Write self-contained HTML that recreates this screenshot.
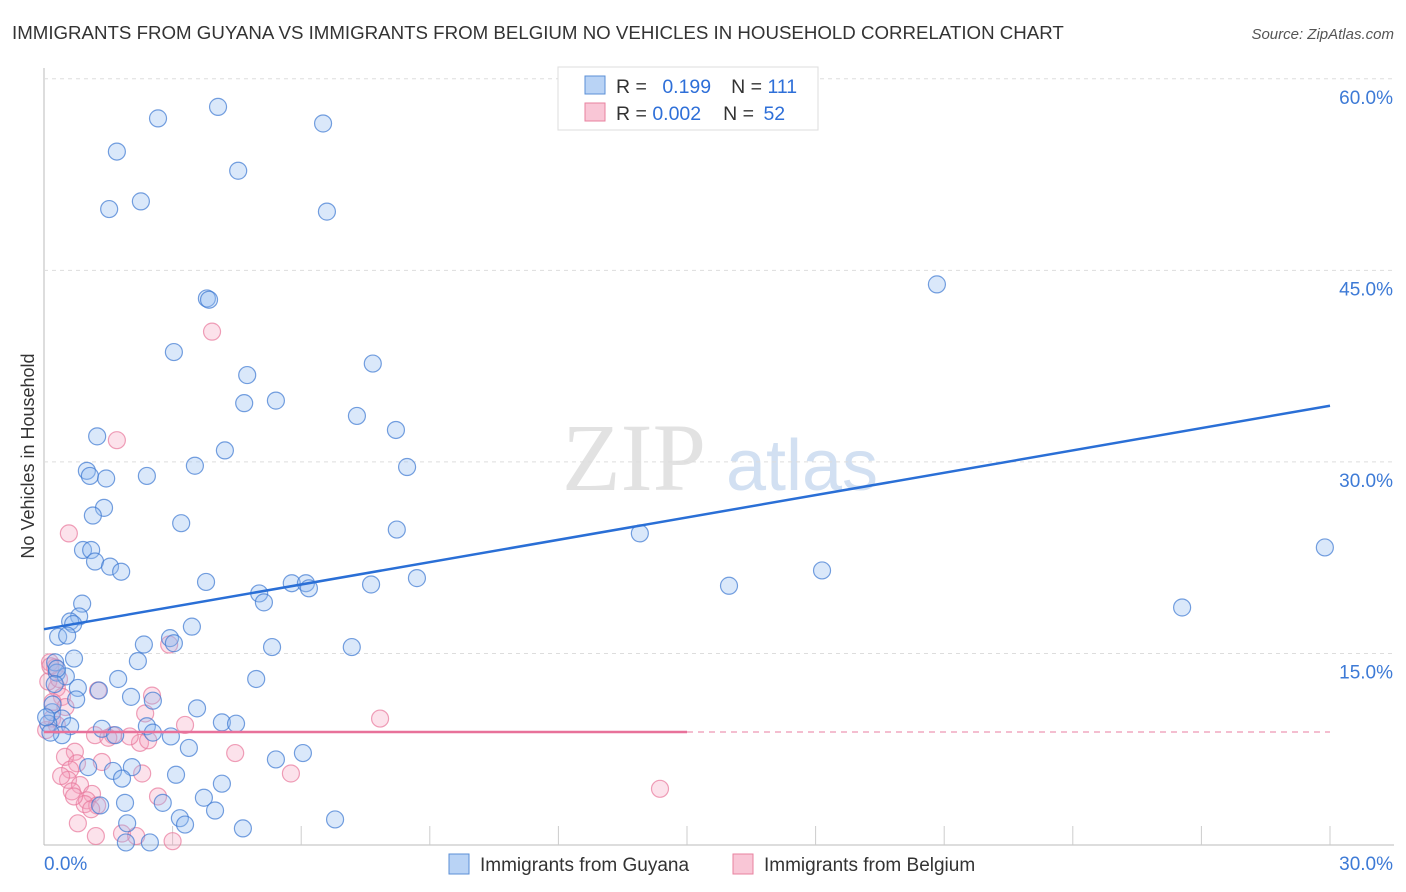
<!DOCTYPE html>
<html><head><meta charset="utf-8"><style>
body{margin:0;background:#fff;font-family:"Liberation Sans",sans-serif}
svg{display:block}
</style></head><body>
<svg id="chart" width="1406" height="892">
<text x="12" y="39" font-size="18.7" fill="#333">IMMIGRANTS FROM GUYANA VS IMMIGRANTS FROM BELGIUM NO VEHICLES IN HOUSEHOLD CORRELATION CHART</text>
<text x="1394" y="39" font-size="15" fill="#555" font-style="italic" text-anchor="end">Source: ZipAtlas.com</text>
<text x="634" y="490" font-size="96" fill="#e2e2e2" font-family="Liberation Serif" text-anchor="middle">ZIP</text>
<text x="802" y="490" font-size="72" fill="#d2e0f2" text-anchor="middle">atlas</text>
<text transform="translate(34,456) rotate(-90)" font-size="18" fill="#333" text-anchor="middle">No Vehicles in Household</text>
<g id="grid"></g><g id="marks"></g><g id="lines"></g>
<g>
<rect x="558" y="67" width="260" height="63" fill="#fff" stroke="#ddd"/>
<rect x="585" y="76" width="20" height="18" fill="#b9d3f5" stroke="#5b8fd6"/>
<rect x="585" y="103" width="20" height="18" fill="#f9c6d6" stroke="#e8829f"/>
<text x="616" y="93" font-size="19.5" fill="#333">R = <tspan fill="#2e6fd8" dx="10">0.199</tspan><tspan dx="20" fill="#333">N = </tspan><tspan fill="#2e6fd8">111</tspan></text>
<text x="616" y="120" font-size="19.5" fill="#333">R = <tspan fill="#2e6fd8">0.002</tspan><tspan dx="22" fill="#333">N = </tspan><tspan fill="#2e6fd8" dx="4">52</tspan></text>
</g>
<g>
<rect x="449" y="854" width="20" height="20" fill="#b9d3f5" stroke="#5b8fd6"/>
<text x="480" y="871" font-size="19" fill="#333">Immigrants from Guyana</text>
<rect x="733" y="854" width="20" height="20" fill="#f9c6d6" stroke="#e8829f"/>
<text x="764" y="871" font-size="19" fill="#333">Immigrants from Belgium</text>
</g>
</svg>
<script>
const xTicks=[0,3,6,9,12,15,18,21,24,27,30];
const yTicks=[15,30,45,60];
const blueX=[1.70,2.66,4.06,6.51,4.53,1.52,2.26,6.60,3.80,3.85,20.83,3.03,7.67,4.74,4.67,5.41,7.30,8.21,1.24,4.22,3.52,8.47,1.00,1.07,1.45,2.40,1.40,1.14,3.20,8.23,13.90,29.88,0.91,1.10,1.19,1.54,1.80,18.15,3.78,8.70,5.78,6.11,6.18,7.63,15.98,5.02,5.13,0.89,26.55,0.82,0.61,0.68,3.45,0.33,0.54,2.94,3.03,2.33,5.32,7.18,0.70,2.19,0.26,0.30,0.51,1.73,4.95,0.79,1.28,0.75,2.03,2.54,3.57,0.19,0.42,4.15,4.48,0.61,1.35,2.40,2.54,1.66,2.96,0.42,3.38,6.04,5.41,1.03,1.61,2.05,3.08,1.82,4.15,3.73,1.89,1.31,2.77,3.99,3.17,3.29,1.94,4.64,6.79,2.47,1.91,0.1,0.2,0.15,0.3,0.05,0.25];
const blueY=[54.3,56.9,57.8,56.5,52.8,49.8,50.4,49.6,42.8,42.7,43.9,38.6,37.7,36.8,34.6,34.8,33.6,32.5,32.0,30.9,29.7,29.6,29.3,28.9,28.7,28.9,26.4,25.8,25.2,24.7,24.4,23.3,23.1,23.1,22.2,21.8,21.4,21.5,20.6,20.9,20.5,20.5,20.1,20.4,20.3,19.7,19.0,18.9,18.6,17.9,17.5,17.3,17.1,16.3,16.4,16.2,15.8,15.7,15.5,15.5,14.6,14.4,14.3,13.5,13.2,13.0,13.0,12.3,12.1,11.4,11.6,11.3,10.7,10.4,9.9,9.6,9.5,9.3,9.1,9.3,8.8,8.6,8.5,8.6,7.6,7.2,6.7,6.1,5.8,6.1,5.5,5.2,4.8,3.7,3.3,3.1,3.3,2.7,2.1,1.6,1.7,1.3,2.0,0.2,0.2,9.5,11.0,8.8,13.8,10.0,12.6];
const pinkX=[3.92,1.70,0.58,2.92,0.14,0.26,0.30,0.42,1.26,2.52,2.36,3.29,7.84,0.19,0.30,1.19,1.61,2.24,2.43,4.46,0.72,0.49,0.77,0.61,1.35,2.29,5.76,0.56,0.84,0.65,1.12,1.00,1.24,2.66,14.37,0.79,1.21,1.82,2.15,0.1,0.2,0.35,0.5,0.95,1.5,0.05,0.4,0.7,1.1,2.0,3.0,0.15];
const pinkY=[40.2,31.7,24.4,15.7,14.3,13.9,12.3,11.6,12.1,11.7,10.3,9.4,9.9,9.9,9.4,8.6,8.6,8.0,8.2,7.2,7.3,6.9,6.4,5.9,6.5,5.6,5.6,5.1,4.7,4.2,4.0,3.5,3.1,3.8,4.4,1.7,0.7,0.9,0.7,12.8,11.2,13.0,10.8,3.2,8.4,9.0,5.4,3.8,2.8,8.5,0.3,14.0];
const blueFit=[16.9,34.4];
const pinkFit=[8.85,8.85];
const X0=44,X1=1330,Y0=845,YPER=12.77;
const sx=v=>X0+(X1-X0)*v/30, sy=v=>Y0-v*YPER;
const NS="http://www.w3.org/2000/svg";
function mk(t,a,p){const e=document.createElementNS(NS,t);for(const k in a)e.setAttribute(k,a[k]);p.appendChild(e);return e;}
const grid=document.getElementById('grid'),marks=document.getElementById('marks'),lines=document.getElementById('lines');
const ax=mk('line',{x1:X0,y1:68,x2:X0,y2:Y0,stroke:'#bbb'},grid);


const bx=mk('line',{x1:X0,y1:Y0,x2:1394,y2:Y0,stroke:'#bbb'},grid);


yTicks.forEach(v=>{
 const g=mk('line',{x1:X0,y1:sy(v),x2:1394,y2:sy(v),stroke:'#ddd','stroke-dasharray':'4,4'},grid);
 
 
 const t=mk('text',{x:1393,y:sy(v)+25,'font-size':19,fill:'#3d7ad6','text-anchor':'end'},grid);t.textContent=v.toFixed(1)+'%';
 
 
});
xTicks.forEach((v,i)=>{
 if(i>0){const l=mk('line',{x1:sx(v),y1:826,x2:sx(v),y2:Y0,stroke:'#ccc'},grid);
 
 }
});
[[0,'0.0%','start',44],[30,'30.0%','end',1393]].forEach(d=>{
 const t=mk('text',{x:d[3],y:870,'font-size':19,fill:'#3d7ad6','text-anchor':d[2]},grid);t.textContent=d[1];
 
 
});
pinkX.forEach((x,i)=>{const c=mk('circle',{cx:sx(x),cy:sy(pinkY[i]),r:8.5,fill:'rgba(244,160,188,0.3)',stroke:'rgba(232,120,155,0.7)','stroke-width':1.2},marks);
 
 });
blueX.forEach((x,i)=>{const c=mk('circle',{cx:sx(x),cy:sy(blueY[i]),r:8.5,fill:'rgba(150,190,240,0.35)',stroke:'rgba(60,120,210,0.7)','stroke-width':1.2},marks);
 
 });
const bl=mk('line',{x1:sx(0),y1:sy(blueFit[0]),x2:sx(30),y2:sy(blueFit[1]),stroke:'#2a6fd6','stroke-width':2.5},lines);


const pm=pinkFit[0]+(pinkFit[1]-pinkFit[0])*0.5;
const pl=mk('line',{x1:sx(0),y1:sy(pinkFit[0]),x2:sx(15),y2:sy(pm),stroke:'#e8719a','stroke-width':2.5},lines);


const pd=mk('line',{x1:sx(15),y1:sy(pm),x2:sx(30),y2:sy(pinkFit[1]),stroke:'#f0a8c0','stroke-width':1.5,'stroke-dasharray':'6,5'},lines);


</script>
</body></html>
